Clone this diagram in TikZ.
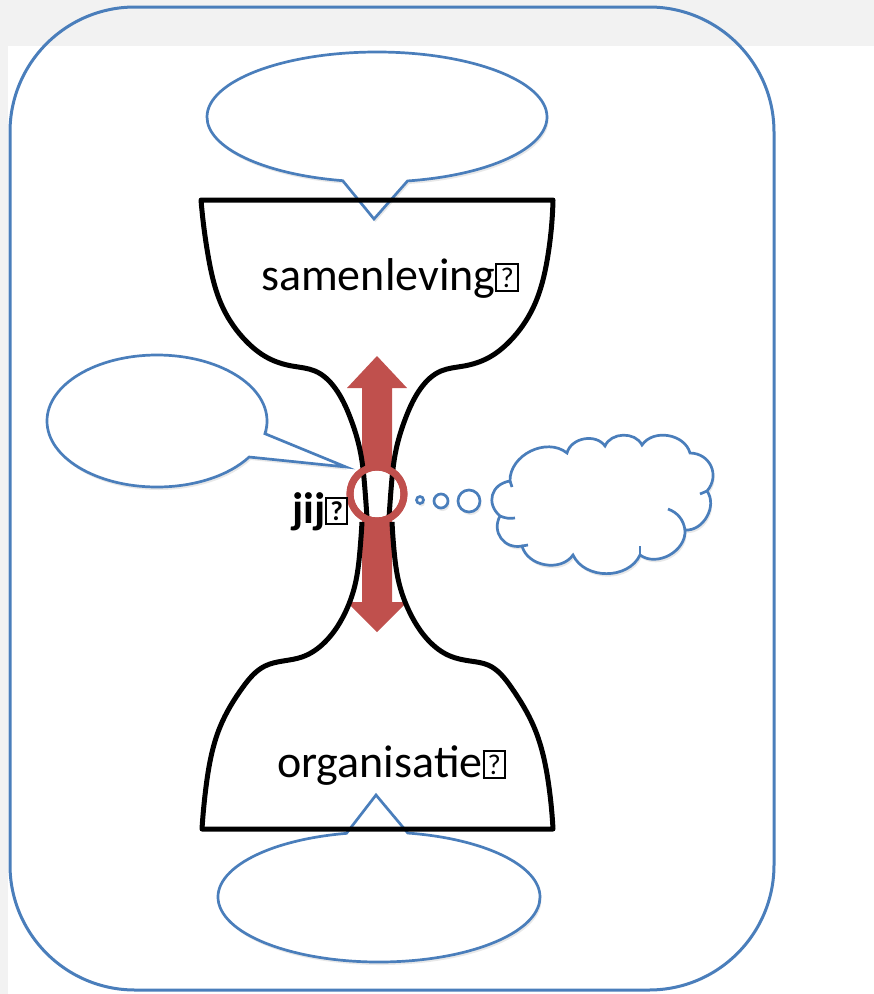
\documentclass[tikz,border=0pt]{standalone}
\usepackage{fontspec}
\setmainfont{Carlito}
\usetikzlibrary{hobby,shapes.callouts,shadows}

\definecolor{lineblue}{HTML}{4A7EBB}
\definecolor{arrowred}{HTML}{C0504D}
\definecolor{pagegray}{HTML}{F2F2F2}

% box for the glyph the font did not have
\newcommand{\qbox}{{\fboxsep=0pt\fboxrule=0.045em\fbox{\makebox[0.42em]{\rule{0pt}{0.54em}\raisebox{0.06em}{\scalebox{0.62}{?}}}}}}

\tikzset{
	soft/.style={drop shadow={opacity=0.18,shadow xshift=1.5bp,shadow yshift=-3bp}},
	speech/.style={ellipse callout,draw=lineblue,line width=2.7bp,fill=white,inner sep=0pt,callout pointer arc=22,soft},
	bubble/.style={circle,draw=lineblue,line width=2.7bp,fill=white,inner sep=0pt,soft},
	puff/.style={bend left=65,looseness=1.05},
	vase/.style={line width=5bp,black,line join=round},
	bigtext/.style={font=\fontsize{46bp}{50bp}\selectfont,inner sep=0pt}
}

\begin{document}
\begin{tikzpicture}[x=1bp,y=-1bp]
	\useasboundingbox (0,0) rectangle (874,994);
	\fill[pagegray] (0,0) rectangle (874,994);
	\fill[white] (8,46) rectangle (874,994);
	\draw[lineblue,line width=3bp,rounded corners=125bp] (10,7) rectangle (774,990);

	% callouts
	\node[speech,minimum width=340bp,minimum height=130bp,callout absolute pointer={(374,219)}] (topcall) at (377,117) {};
	\node[speech,minimum width=220bp,minimum height=132bp,callout absolute pointer={(346,467)}] (leftcall) at (157,421) {};
	\node[speech,minimum width=322bp,minimum height=130bp,callout absolute pointer={(376,795)}] (botcall) at (379,897) {};

	% thought cloud
	\coordinate (c1) at (510,481);
	\coordinate (c2) at (567,453);
	\coordinate (c3) at (605,446);
	\coordinate (c4) at (642,445);
	\coordinate (c5) at (690,453);
	\coordinate (c6) at (707,491);
	\coordinate (c7) at (685,530);
	\coordinate (c8) at (640,555);
	\coordinate (c9) at (573,555);
	\coordinate (c10) at (522,546);
	\coordinate (c11) at (500,516);
	\draw[lineblue,line width=2.7bp,fill=white,soft] (c1) to[puff] (c2) to[puff] (c3) to[puff] (c4) to[puff] (c5)
		to[puff,looseness=1.25] (c6) to[puff] (c7) to[puff] (c8) to[puff] (c9) to[puff] (c10)
		to[puff,looseness=1.25] (c11) to[puff,looseness=1.35] cycle;
	\draw[lineblue,line width=2.7bp] (c11) to[bend right=15] (515,518);
	\draw[lineblue,line width=2.7bp] (668,509) to[bend left=30] (c7);
	\draw[lineblue,line width=2.7bp] (c6) -- (700,494);
	\draw[lineblue,line width=2.7bp] (c8) -- (640,546);
	\draw[lineblue,line width=2.7bp] (c10) -- (528,545);
	\draw[lineblue,line width=2.7bp] (c1) -- (512,487);
	\node[bubble,minimum size=7bp] (b1) at (420,500) {};
	\node[bubble,minimum size=14bp] (b2) at (441,501) {};
	\node[bubble,minimum size=22bp] (b3) at (469,501) {};

	% arrow up and down
	\fill[arrowred] (362,388) -- (347,388) -- (377,356) -- (407,388) -- (392,388) -- (392,602) -- (407,602) -- (377,632) -- (347,602) -- (362,602) -- cycle;
	\node[circle,draw=arrowred,line width=7bp,fill=white,minimum size=54bp,inner sep=0pt] (ring) at (377,494) {};

	% hourglass
	\draw[vase,use Hobby shortcut] (367,518) .. (365,490) .. (360,450) .. (350,417) .. (335,388) .. (315,371) .. (292,366) .. (268,358) .. (246,341) .. (223,308) .. (208,255) .. (201,200) -- (553,200) .. (548,255) .. (533,308) .. (510,341) .. (488,358) .. (464,366) .. (441,371) .. (421,388) .. (406,417) .. (396,450) .. (391,490) .. (389,518);
	\draw[vase,use Hobby shortcut] (362,522) .. (360,550) .. (355,585) .. (344,615) .. (325,642) .. (302,657) .. (283,661) .. (265,666) .. (243,687) .. (220,727) .. (206,787) .. (202,829) -- (553,829) .. (549,787) .. (534,727) .. (511,687) .. (488,665) .. (470,661) .. (450,656) .. (428,640) .. (410,613) .. (399,583) .. (394,550) .. (392,522);
	\draw[arrowred,line width=7bp] (ring.center) circle (27bp);

	\node[bigtext,anchor=base west] (samen) at (261,290) {samenleving\qbox};
	\node[bigtext,anchor=base west] (org) at (277,777) {organisatie\qbox};
	\node[font=\fontsize{44bp}{48bp}\selectfont\bfseries,inner sep=0pt,anchor=base west] (jij) at (292,523) {jij\qbox};
\end{tikzpicture}
\end{document}
